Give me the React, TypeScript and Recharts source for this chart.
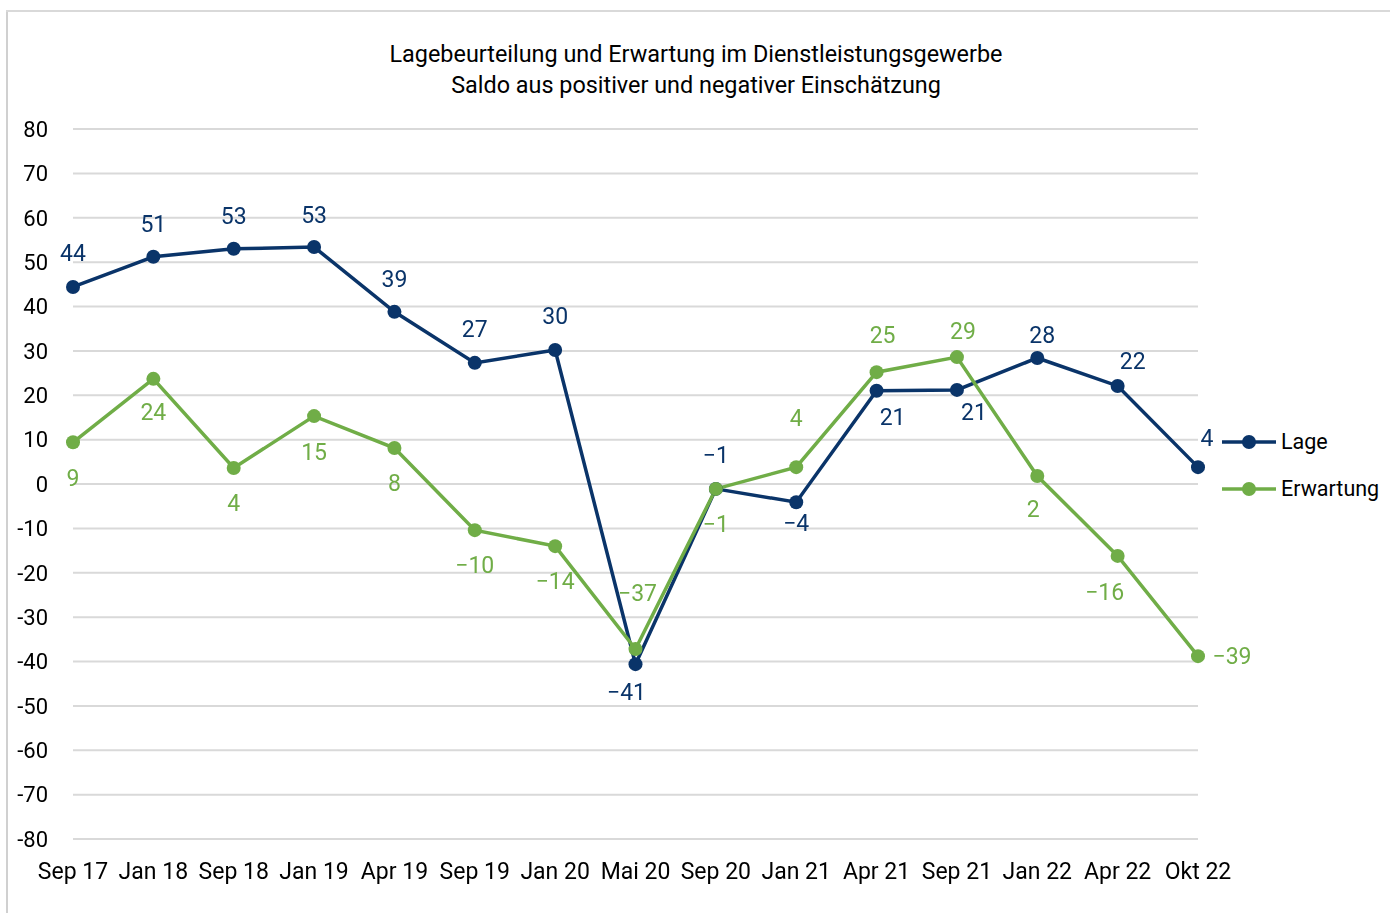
import React from 'react';
import { LineChart, Line, XAxis, YAxis, CartesianGrid, LabelList } from 'recharts';

const months = ['Sep 17', 'Jan 18', 'Sep 18', 'Jan 19', 'Apr 19', 'Sep 19', 'Jan 20', 'Mai 20', 'Sep 20', 'Jan 21', 'Apr 21', 'Sep 21', 'Jan 22', 'Apr 22', 'Okt 22'];
const lage = [44.4, 51.2, 53.0, 53.4, 38.8, 27.3, 30.2, -40.6, -1.1, -4.1, 21, 21.2, 28.4, 22.1, 3.8];
const erwartung = [9.4, 23.7, 3.6, 15.3, 8.1, -10.4, -14, -37.2, -1.1, 3.8, 25.2, 28.6, 1.8, -16.2, -38.8];
const yTicks = [80, 70, 60, 50, 40, 30, 20, 10, 0, -10, -20, -30, -40, -50, -60, -70, -80];

// label offsets [dx, dy] relative to the point
const lageOffsets = [[0, -33], [0, -32], [0, -32], [0, -32], [0, -32], [0, -33], [0, -33], [-9, 28], [0, -33], [0, 21], [16, 27], [17, 23], [5, -22], [15, -24], [9, -29]];
const erwOffsets = [[0, 36], [0, 34], [0, 35], [0, 36], [0, 35], [0, 35], [0, 35], [2, -56], [0, 36], [0, -49], [6, -37], [6, -26], [-4, 33], [-13, 37], [34, 0]];

const NAVY = '#0a3469';
const GREEN = '#70ad47';
const FONT = 'Roboto, "Noto Sans", sans-serif';

const data = months.map((m, i) => ({ month: m, Lage: lage[i], Erwartung: erwartung[i] }));

const makeLabel = (offsets: number[][], color: string) => (props: any) => {
  const { x, y, value, index } = props;
  const [dx, dy] = offsets[index] || [0, -30];
  return (
    <text x={x + dx} y={y + dy} fill={color} fontSize={23} fontFamily={FONT} textAnchor="middle" dominantBaseline="central">
      {String(Math.round(value)).replace('-', '\u2212')}
    </text>
  );
};

const series = [{ name: 'Lage', color: NAVY }, { name: 'Erwartung', color: GREEN }];

export default function App() {
  return (
    <div style={{ position: 'relative', width: 1374, height: 897 }}>
      <div style={{ position: 'fixed', left: 6, top: 10, width: 2, height: 903, background: '#d0d0d0' }} />
      <div style={{ position: 'fixed', left: 6, top: 10, width: 1384, height: 2, background: '#d9d9d9' }} />
      <div style={{ position: 'absolute', left: -8, width: 1392, top: 31, textAlign: 'center', fontFamily: FONT, fontSize: 23.4, lineHeight: '31px', color: '#000' }}>
        Lagebeurteilung und Erwartung im Dienstleistungsgewerbe
        <br />
        Saldo aus positiver und negativer Einschätzung
      </div>
      <div style={{ position: 'absolute', left: 1214, top: 410, fontFamily: FONT, fontSize: 21.5, color: '#000' }}>
        {series.map((s) => (
          <div key={s.name} style={{ display: 'flex', alignItems: 'center', height: 47 }}>
            <svg width={56} height={20} style={{ marginRight: 3 }}>
              <line x1={0} y1={10} x2={54} y2={10} stroke={s.color} strokeWidth={3.5} />
              <circle cx={27} cy={10} r={7} fill={s.color} />
            </svg>
            <span>{s.name}</span>
          </div>
        ))}
      </div>
      <LineChart width={1374} height={897} data={data} margin={{ top: 121, right: 184, bottom: 6, left: 0 }}>
        <CartesianGrid vertical={false} stroke="#d9d9d9" strokeWidth={2} />
        <XAxis dataKey="month" axisLine={false} tickLine={false} tickSize={0} tickMargin={24} height={60} interval={0}
          tick={{ fontSize: 23, fontFamily: FONT, fill: '#000' }} />
        <YAxis domain={[-80, 80]} ticks={yTicks} axisLine={false} tickLine={false} tickSize={0} tickMargin={25} width={65} interval={0}
          tick={{ fontSize: 22, fontFamily: FONT, fill: '#000' }} />
        <Line dataKey="Lage" stroke={NAVY} strokeWidth={3.5} dot={{ r: 7, fill: NAVY, stroke: NAVY, strokeWidth: 0 }} isAnimationActive={false}>
          <LabelList dataKey="Lage" content={makeLabel(lageOffsets, NAVY)} />
        </Line>
        <Line dataKey="Erwartung" stroke={GREEN} strokeWidth={3.5} dot={{ r: 7, fill: GREEN, stroke: GREEN, strokeWidth: 0 }} isAnimationActive={false}>
          <LabelList dataKey="Erwartung" content={makeLabel(erwOffsets, GREEN)} />
        </Line>
      </LineChart>
    </div>
  );
}
